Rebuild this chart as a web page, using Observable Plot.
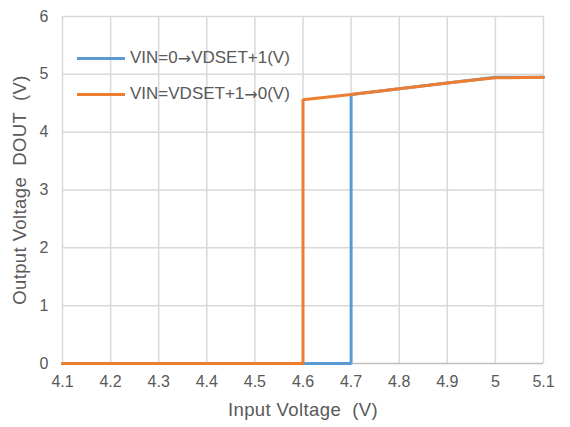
<!DOCTYPE html>
<html>
<head>
<meta charset="utf-8">
<script src="https://cdn.jsdelivr.net/npm/d3@7"></script>
<script src="https://cdn.jsdelivr.net/npm/@observablehq/plot@0.6"></script>
<style>
  html, body { margin: 0; padding: 0; background: #fff; }
  #wrap { position: relative; width: 570px; height: 427px; font-family: "Liberation Sans", Arial, sans-serif; }
  .leg { position: absolute; left: 77px; height: 20px; display: flex; align-items: center; font-size: 17px; color: #595959; white-space: nowrap; }
  .leg span.sw { display: inline-block; width: 48px; height: 3px; margin-right: 5px; }
  .arr { font-family: "DejaVu Sans", sans-serif; font-size: 16px; }
</style>
</head>
<body>
<div id="wrap"></div>
<script>
const xTicks = [4.1, 4.2, 4.3, 4.4, 4.5, 4.6, 4.7, 4.8, 4.9, 5.0, 5.1];
const yTicks = [0, 1, 2, 3, 4, 5, 6];

// VIN = 0 -> VDSET+1 (rising sweep)
const riseX = [4.1, 4.2, 4.3, 4.4, 4.5, 4.6, 4.7, 4.7, 4.8, 4.9, 5.0, 5.1];
const riseY = [0, 0, 0, 0, 0, 0, 0, 4.65, 4.75, 4.85, 4.95, 4.95];
// VIN = VDSET+1 -> 0 (falling sweep)
const fallX = [4.1, 4.2, 4.3, 4.4, 4.5, 4.6, 4.6, 4.7, 4.8, 4.9, 5.0, 5.1];
const fallY = [0, 0, 0, 0, 0, 0, 4.56, 4.65, 4.75, 4.85, 4.94, 4.95];

const seriesNames = ["VIN=0\u2192VDSET+1(V)", "VIN=VDSET+1\u21920(V)"];
const seriesColors = ["#5b9bd5", "#ed7d31"];

const rise = riseX.map((x, i) => ({x, y: riseY[i]}));
const fall = fallX.map((x, i) => ({x, y: fallY[i]}));

const chart = Plot.plot({
  width: 570,
  height: 427,
  marginLeft: 62,
  marginRight: 27,
  marginTop: 16,
  marginBottom: 64,
  style: { fontFamily: "'Liberation Sans', Arial, sans-serif", fontSize: "16px", color: "#595959", background: "#fff" },
  x: { domain: [4.1, 5.1] },
  y: { domain: [0, 6] },
  marks: [
    Plot.ruleX(xTicks, { stroke: "#d9d9d9", strokeWidth: 1.5 }),
    Plot.ruleY(yTicks.filter(d => d > 0), { stroke: "#d9d9d9", strokeWidth: 1.5 }),
    Plot.ruleY([0], { stroke: "#bfbfbf", strokeWidth: 1.5 }),
    Plot.axisX({ ticks: xTicks, tickFormat: d3.format("~g"), tickSize: 0, tickPadding: 12, fontSize: 16,
      label: "Input Voltage  (V)", labelAnchor: "center", labelArrow: "none", labelOffset: 52 }),
    Plot.axisY({ ticks: yTicks, tickFormat: d3.format("d"), tickSize: 0, tickPadding: 14, fontSize: 16,
      label: "Output Voltage  DOUT  (V)", labelAnchor: "center", labelArrow: "none", labelOffset: 50 }),
    Plot.line(rise, { x: "x", y: "y", stroke: seriesColors[0], strokeWidth: 3, strokeLinejoin: "miter" }),
    Plot.line(fall, { x: "x", y: "y", stroke: seriesColors[1], strokeWidth: 3, strokeLinejoin: "miter" })
  ]
});
const wrap = document.getElementById("wrap");
wrap.appendChild(chart);
d3.select(chart).selectAll("text").style("font-size", "16px");
d3.select(chart).selectAll("g[aria-label='x-axis label'] text, g[aria-label='y-axis label'] text")
  .style("font-size", "18.5px").style("letter-spacing", "0.4px").style("white-space", "pre");

seriesNames.forEach((name, i) => {
  const d = document.createElement("div");
  d.className = "leg";
  d.style.top = (i === 0 ? 48 : 84) + "px";
  const parts = name.split("\u2192");
  d.innerHTML = `<span class="sw" style="background:${seriesColors[i]}"></span>${parts[0]}<span class="arr">\u2192</span>${parts[1]}`;
  wrap.appendChild(d);
});
</script>
</body>
</html>
